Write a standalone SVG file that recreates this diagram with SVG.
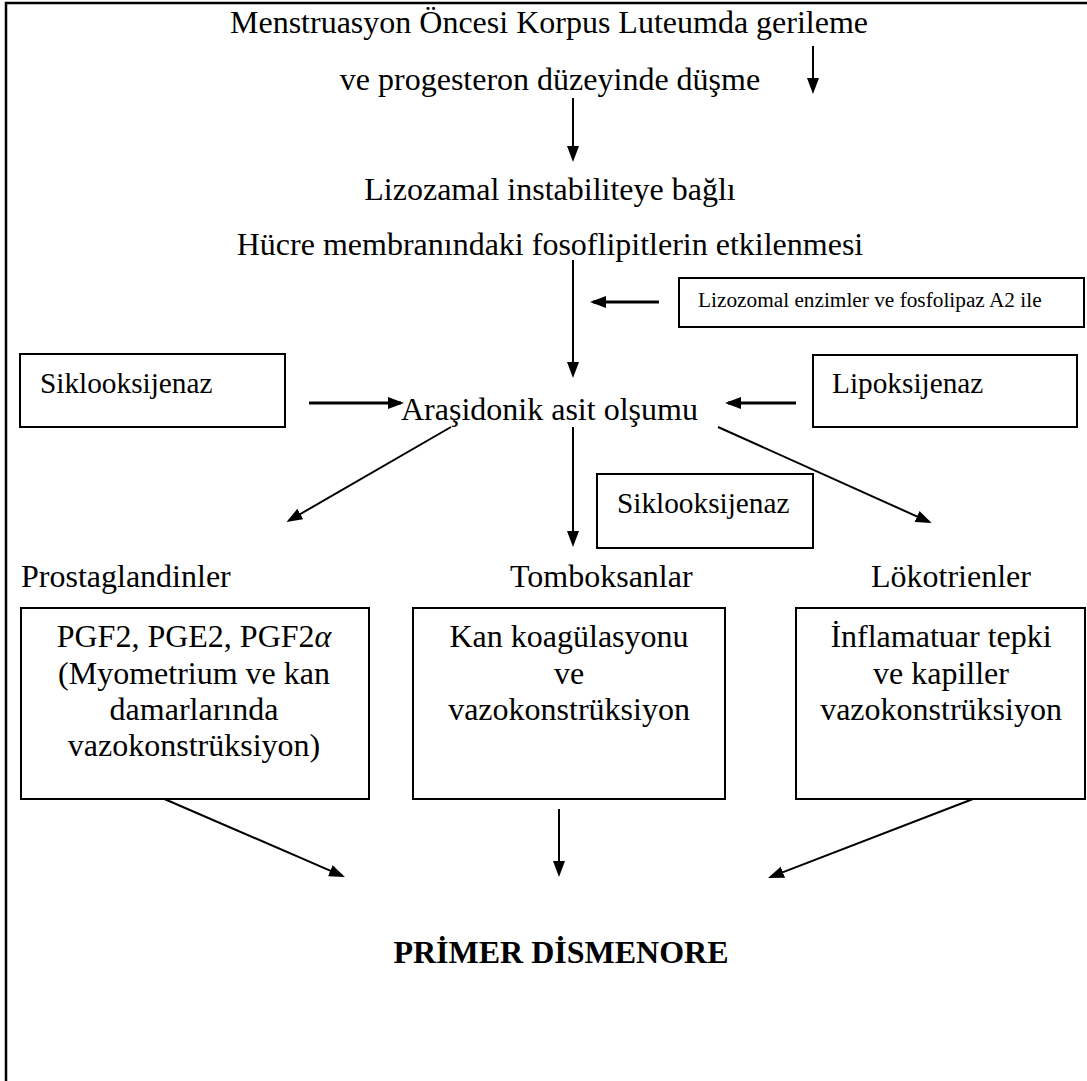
<svg xmlns="http://www.w3.org/2000/svg" width="1087" height="1081" viewBox="0 0 1087 1081">
<style>
text{font-family:"Liberation Serif","Times New Roman",serif;fill:#000}
.t{font-size:32px}
.m{text-anchor:middle}
.s{font-size:29.3px}
.xs{font-size:21.3px}
.b{font-weight:bold}
rect{fill:#fff;stroke:#000;stroke-width:2}
.c line{stroke:#000;stroke-width:2;marker-end:url(#ah)}
.c line.k{stroke-width:3}
.frame{stroke:#000;stroke-width:2.5;fill:none}
</style>
<defs>
<marker id="ah" markerUnits="userSpaceOnUse" markerWidth="16" markerHeight="12" refX="13" refY="6" orient="auto">
<path d="M0,0 L16,6 L0,12 z" fill="#000"/>
</marker>
</defs>
<rect x="0" y="0" width="1087" height="1081" style="stroke:none;fill:#fff"/>
<path class="frame" d="M6,1081 V3 H1087"/>

<g id="n-top">
<text class="t m" x="549" y="33">Menstruasyon Öncesi Korpus Luteumda gerileme</text>
<text class="t m" x="550" y="90">ve progesteron düzeyinde düşme</text>
</g>
<g id="n-lizozamal">
<text class="t m" x="550" y="200">Lizozamal instabiliteye bağlı</text>
<text class="t m" x="550" y="255">Hücre membranındaki fosoflipitlerin etkilenmesi</text>
</g>
<g id="n-enzimler">
<rect x="679" y="278" width="405" height="49"/>
<text class="xs" x="698" y="307">Lizozomal enzimler ve fosfolipaz A2 ile</text>
</g>
<g id="n-siklo1">
<rect x="20" y="354" width="265" height="73"/>
<text class="s" x="40" y="393">Siklooksijenaz</text>
</g>
<g id="n-arasidonik">
<text class="t" x="401" y="420">Araşidonik asit olşumu</text>
</g>
<g id="n-lipo">
<rect x="813" y="355" width="264" height="72"/>
<text class="s" x="832" y="393">Lipoksijenaz</text>
</g>
<g id="n-siklo2">
<rect x="597" y="474" width="216" height="74"/>
<text class="s" x="617" y="513">Siklooksijenaz</text>
</g>
<g id="n-prosta">
<text class="t" x="21" y="587">Prostaglandinler</text>
<rect x="21" y="608" width="348" height="191"/>
<text class="t m" x="194" y="647">PGF2, PGE2, PGF2<tspan font-style="italic">α</tspan></text>
<text class="t m" x="194" y="684">(Myometrium ve kan</text>
<text class="t m" x="194" y="720">damarlarında</text>
<text class="t m" x="194" y="756">vazokonstrüksiyon)</text>
</g>
<g id="n-tromb">
<text class="t" x="510" y="587">Tomboksanlar</text>
<rect x="413" y="608" width="312" height="191"/>
<text class="t m" x="569" y="647">Kan koagülasyonu</text>
<text class="t m" x="569" y="684">ve</text>
<text class="t m" x="569" y="720">vazokonstrüksiyon</text>
</g>
<g id="n-loko">
<text class="t" x="871" y="587">Lökotrienler</text>
<rect x="796" y="608" width="289" height="191"/>
<text class="t m" x="941" y="647">İnflamatuar tepki</text>
<text class="t m" x="941" y="684">ve kapiller</text>
<text class="t m" x="941" y="720">vazokonstrüksiyon</text>
</g>
<g id="n-primer">
<text class="t m b" x="561" y="963">PRİMER DİSMENORE</text>
</g>

<g id="connectors" class="c">
<line x1="813" y1="46" x2="813" y2="91"/>
<line x1="573" y1="98" x2="573" y2="159"/>
<line x1="573" y1="260" x2="573" y2="375"/>
<line class="k" x1="659" y1="302" x2="593" y2="302"/>
<line class="k" x1="309" y1="403" x2="401" y2="403"/>
<line class="k" x1="796" y1="403" x2="728" y2="403"/>
<line x1="451" y1="427" x2="289.1" y2="520.5"/>
<line x1="573" y1="427" x2="573" y2="544"/>
<line x1="718" y1="427" x2="928.9" y2="521.8"/>
<line x1="164.4" y1="799" x2="342.2" y2="875.8"/>
<line x1="559" y1="809" x2="559" y2="874"/>
<line x1="973" y1="799" x2="770.8" y2="876.9"/>
</g>
</svg>
